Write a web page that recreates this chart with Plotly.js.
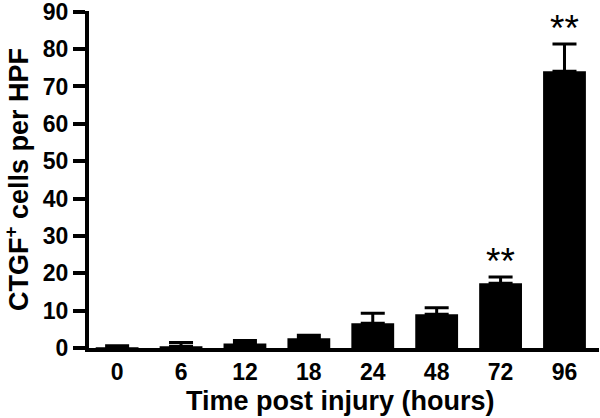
<!DOCTYPE html>
<html>
<head>
<meta charset="utf-8">
<script src="https://cdn.plot.ly/plotly-3.0.1.min.js"></script>
<style>html,body{margin:0;padding:0;background:#fff;}#chart{width:600px;height:418px;}</style>
</head>
<body>
<div id="chart"></div>
<script>
var timePoints = ["0", "6", "12", "18", "24", "48", "72", "96"];
var cellCounts = [0.2, 0.5, 1.2, 2.6, 6.6, 9.0, 17.3, 74.1];
var semErrors = [0.4, 1.0, 0.8, 0.8, 2.7, 1.8, 1.7, 7.3];
var significance = ["", "", "", "", "", "", "**", "**"];

var FONT = "Liberation Sans, Arial, sans-serif";

var trace = {
  type: "bar",
  x: timePoints,
  y: cellCounts,
  width: 0.67,
  marker: {color: "#000000", line: {width: 0}},
  error_y: {type: "data", array: semErrors, symmetric: false, arrayminus: timePoints.map(function(){return 0;}), color: "#000000", thickness: 3, width: 12, visible: true},
  hoverinfo: "x+y"
};

var annotations = [];
for (var i = 0; i < timePoints.length; i++) {
  if (significance[i]) {
    annotations.push({
      x: i, y: cellCounts[i] + semErrors[i], xref: "x", yref: "y",
      text: significance[i], showarrow: false, yanchor: "bottom", yshift: -7,
      font: {family: FONT, size: 37, color: "#000"}
    });
  }
}
annotations.push({
  text: "<b>Time post injury (hours)</b>", xref: "paper", yref: "paper",
  x: (340 - 89) / 510, y: 0, yanchor: "top", xanchor: "center", yshift: -36, showarrow: false,
  font: {family: FONT, size: 27, color: "#000"}
});

var layout = {
  width: 600, height: 418,
  margin: {l: 89, r: 1, t: 11, b: 70},
  paper_bgcolor: "#fff", plot_bgcolor: "#fff",
  showlegend: false,
  font: {family: FONT, color: "#000"},
  xaxis: {
    type: "category", range: [-0.44, 7.54],
    showline: true, linewidth: 4, linecolor: "#000",
    ticks: "", showgrid: false, zeroline: false,
    tickfont: {family: FONT, size: 23, color: "#000", weight: "bold"}
  },
  yaxis: {
    range: [0, 90.2], tickmode: "linear", tick0: 0, dtick: 10,
    showline: true, linewidth: 4, linecolor: "#000",
    ticks: "outside", ticklen: 12, tickwidth: 4, tickcolor: "#000",
    ticklabeloverflow: "allow",
    showgrid: false, zeroline: false,
    tickfont: {family: FONT, size: 23, color: "#000", weight: "bold"},
    title: {text: "<b>CTGF<sup>+</sup> cells per HPF</b>", font: {family: FONT, size: 27, color: "#000"}, standoff: 11}
  },
  annotations: annotations
};

Plotly.newPlot("chart", [trace], layout, {staticPlot: true, displayModeBar: false});
</script>
</body>
</html>
